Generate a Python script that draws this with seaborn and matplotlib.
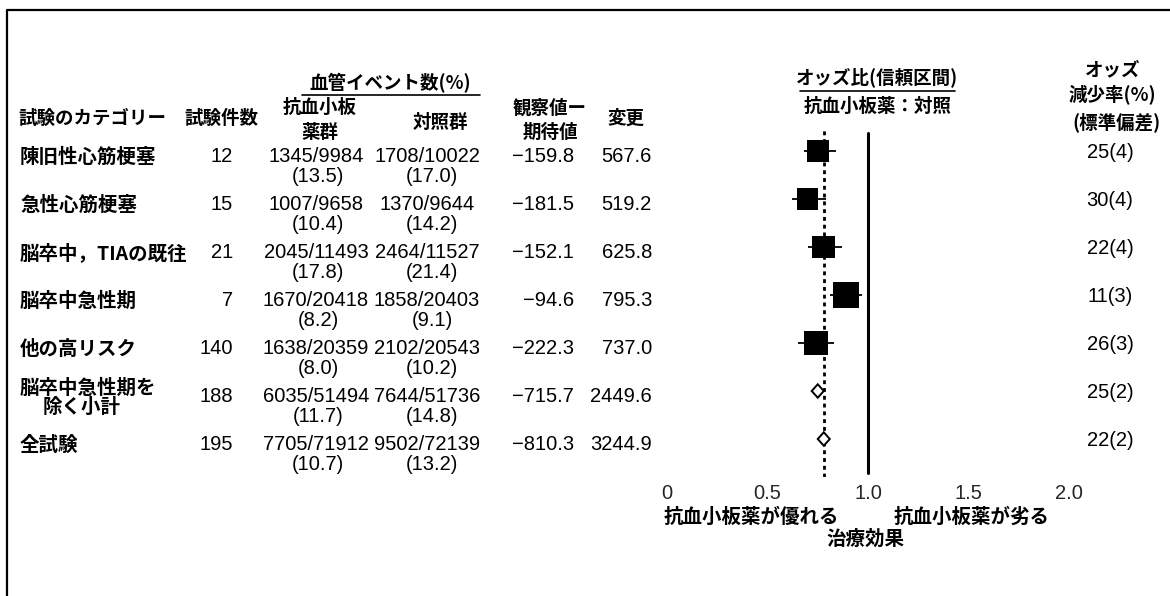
import matplotlib
matplotlib.use('Agg')
from matplotlib import pyplot as plt
import pandas as pd
import seaborn as sns

# rows of the table / forest plot
categories = ['陳旧性心筋梗塞', '急性心筋梗塞', '脳卒中，TIAの既往', '脳卒中急性期',
              '他の高リスク', '脳卒中急性期を', '全試験']
n_trials = [12, 15, 21, 7, 140, 188, 195]
treat_events = [1345, 1007, 2045, 1670, 1638, 6035, 7705]
treat_total = [9984, 9658, 11493, 20418, 20359, 51494, 71912]
treat_pct = [13.5, 10.4, 17.8, 8.2, 8.0, 11.7, 10.7]
ctrl_events = [1708, 1370, 2464, 1858, 2102, 7644, 9502]
ctrl_total = [10022, 9644, 11527, 20403, 20543, 51736, 72139]
ctrl_pct = [17.0, 14.2, 21.4, 9.1, 10.2, 14.8, 13.2]
o_minus_e = [-159.8, -181.5, -152.1, -94.6, -222.3, -715.7, -810.3]
variance = [567.6, 519.2, 625.8, 795.3, 737.0, 2449.6, 3244.9]
odds_ratio = [0.75, 0.70, 0.78, 0.89, 0.74, 0.75, 0.78]
ci_low = [0.68, 0.62, 0.70, 0.81, 0.65, 0.72, 0.75]
ci_high = [0.84, 0.79, 0.87, 0.97, 0.83, 0.78, 0.81]
reduction = [25, 30, 22, 11, 26, 25, 22]
reduction_sd = [4, 4, 4, 3, 3, 2, 2]
is_subtotal = [False, False, False, False, False, True, True]
overall_or = 0.78
x_ticks = [0, 0.5, 1.0, 1.5, 2.0]
x_ticklabels = ['0', '0.5', '1.0', '1.5', '2.0']

JP = ['Noto Sans CJK JP', 'DejaVu Sans']
NUM = ['Liberation Sans', 'Noto Sans CJK JP', 'DejaVu Sans']


def main():
  sns.set_style('white')
  plt.rcParams['font.family'] = NUM

  df = pd.DataFrame({'row': range(len(categories)), 'or': odds_ratio,
                     'lo': ci_low, 'hi': ci_high, 'var': variance,
                     'sub': is_subtotal})

  fig = plt.figure(figsize=(11.7, 5.96), dpi=100)
  # full-figure axes in pixel units for the table text
  ax_t = fig.add_axes([0, 0, 1, 1])
  ax_t.set_xlim(0, 1170)
  ax_t.set_ylim(596, 0)
  ax_t.axis('off')

  # frame of the scanned page
  ax_t.plot([7, 7, 1170], [596, 10, 10], color='black', lw=1.6)

  jp = dict(family=JP, fontweight='bold', fontsize=14, color='black')
  hd = dict(family=JP, fontweight='bold', fontsize=13.3, color='black')
  num = dict(family=NUM, fontsize=14.5, color='black')

  # column headers
  ax_t.text(390, 83, '血管イベント数(%)', ha='center', va='center', **hd)
  ax_t.plot([302, 480], [95, 95], color='black', lw=1.2)
  ax_t.text(18, 118, '試験のカテゴリー', ha='left', va='center', **hd)
  ax_t.text(221, 118, '試験件数', ha='center', va='center', **hd)
  ax_t.text(320, 107, '抗血小板', ha='center', va='center', **hd)
  ax_t.text(320, 132, '薬群', ha='center', va='center', **hd)
  ax_t.text(440, 122, '対照群', ha='center', va='center', **hd)
  ax_t.text(550, 108, '観察値ー', ha='center', va='center', **hd)
  ax_t.text(550, 132, '期待値', ha='center', va='center', **hd)
  ax_t.text(626, 118, '変更', ha='center', va='center', **hd)
  ax_t.text(877, 77, 'オッズ比(信頼区間)', ha='center', va='center', **hd)
  ax_t.plot([800, 955], [91, 91], color='black', lw=1.2)
  ax_t.text(878, 106, '抗血小板薬：対照', ha='center', va='center', **hd)
  ax_t.text(1113, 70, 'オッズ', ha='center', va='center', **hd)
  ax_t.text(1112, 95, '減少率(%)', ha='center', va='center', **hd)
  ax_t.text(1116, 122, '(標準偏差)', ha='center', va='center', **hd)

  # table rows
  for i, cat in enumerate(categories):
    y = 157 + 48 * i
    if i == 5:
      ax_t.text(20, y - 9, cat, ha='left', va='center', **jp)
      ax_t.text(43, y + 10, '除く小計', ha='left', va='center', **jp)
    else:
      ax_t.text(20, y, cat, ha='left', va='center', **jp)
    ax_t.text(233, y, str(n_trials[i]), ha='right', va='center', **num)
    ax_t.text(316, y, '%d/%d' % (treat_events[i], treat_total[i]),
              ha='center', va='center', **num)
    ax_t.text(318, y + 20, '(%.1f)' % treat_pct[i],
              ha='center', va='center', **num)
    ax_t.text(427, y, '%d/%d' % (ctrl_events[i], ctrl_total[i]),
              ha='center', va='center', **num)
    ax_t.text(432, y + 20, '(%.1f)' % ctrl_pct[i],
              ha='center', va='center', **num)
    ax_t.text(574, y, ('%.1f' % o_minus_e[i]).replace('-', '\u2212'),
              ha='right', va='center', **num)
    ax_t.text(652, y, '%.1f' % variance[i], ha='right', va='center', **num)
    ax_t.text(1110, y - 5, '%d(%d)' % (reduction[i], reduction_sd[i]),
              ha='center', va='center', **num)

  # forest plot axes: OR 0 -> px 667, 201 px per unit; rows at px 151 + 48*r
  left_px, right_px, top_px, bot_px = 655, 1080, 128, 477
  ax_f = fig.add_axes([left_px / 1170, (596 - bot_px) / 596,
                       (right_px - left_px) / 1170, (bot_px - top_px) / 596])
  ax_f.set_facecolor('none')
  ax_f.set_xlim((left_px - 667) / 201, (right_px - 667) / 201)
  ax_f.set_ylim((bot_px - 151) / 48, (top_px - 151) / 48)

  ax_f.axvline(1.0, ymin=0.011, ymax=0.986, color='black', lw=2.2)
  ax_f.axvline(overall_or, color='black', lw=2.0, ls=(0, (1.4, 1.4)))

  boxes = df[~df['sub']]
  ax_f.hlines(boxes['row'], boxes['lo'], boxes['hi'], color='black', lw=1.3)
  sns.scatterplot(data=boxes, x='or', y='row', size='var', sizes=(230, 330),
                  size_norm=(519.2, 795.3), marker='s', color='black',
                  edgecolor='black', linewidth=0, legend=False, ax=ax_f)
  for _, r in df[df['sub']].iterrows():
    ax_f.fill([r['lo'], r['or'], r['hi'], r['or']],
              [r['row'], r['row'] - 0.14, r['row'], r['row'] + 0.14],
              facecolor='white', edgecolor='black', lw=1.4, zorder=3)

  ax_f.set_xticks(x_ticks)
  ax_f.set_xticklabels(x_ticklabels, fontsize=14.5)
  ax_f.set_yticks([])
  ax_f.tick_params(axis='x', length=0, pad=5)
  ax_f.set_xlabel('')
  ax_f.set_ylabel('')
  for s in ax_f.spines.values():
    s.set_visible(False)

  ax_t.text(751, 517, '抗血小板薬が優れる', ha='center', va='center', **jp)
  ax_t.text(972, 517, '抗血小板薬が劣る', ha='center', va='center', **jp)
  ax_t.text(865, 539, '治療効果', ha='center', va='center', **jp)

  plt.savefig('out.png', dpi=100)
  plt.close('all')


if __name__ == '__main__':
  main()
